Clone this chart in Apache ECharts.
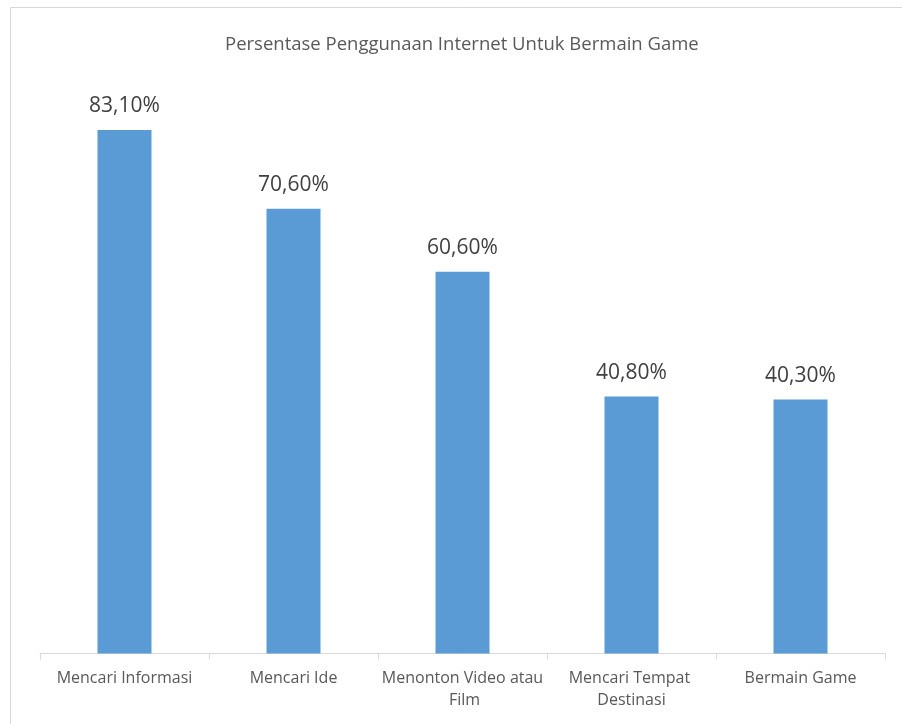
<!DOCTYPE html>
<html><head><meta charset="utf-8">
<script src="https://cdn.jsdelivr.net/npm/echarts@6/dist/echarts.min.js"></script>
<style>html,body{margin:0;padding:0;background:#fff}#c{width:902px;height:724px}</style>
</head><body><div id="c"></div>
<script>
const title = 'Persentase Penggunaan Internet Untuk Bermain Game';
const categories = ['Mencari Informasi', 'Mencari Ide', 'Menonton Video atau Film', 'Mencari Tempat Destinasi', 'Bermain Game'];
const values = [83.1, 70.6, 60.6, 40.8, 40.3];

const font = '"Open Sans", "Noto Sans", sans-serif';
const chart = echarts.init(document.getElementById('c'));
chart.setOption({
  animation: false,
  backgroundColor: '#fff',
  title: {
    text: title, left: 220, top: 30,
    textStyle: { fontFamily: font, fontSize: 18.5, fontWeight: 'normal', color: '#595959' }
  },
  graphic: [{
    type: 'rect', shape: { x: 10.5, y: 7.5, width: 900, height: 730 },
    style: { fill: 'none', stroke: '#D9D9D9', lineWidth: 1 }, silent: true
  }],
  grid: { left: 40, right: 17, top: 86.5, bottom: 70.5 },
  xAxis: {
    type: 'category', data: categories,
    axisLine: { lineStyle: { color: '#D9D9D9', width: 1 } },
    axisTick: { show: true, length: 6, lineStyle: { color: '#D9D9D9' } },
    axisLabel: {
      interval: 0, margin: 14, width: 165, overflow: 'break',
      fontFamily: font, fontSize: 16, color: '#595959', lineHeight: 22
    }
  },
  yAxis: {
    type: 'value', min: 0, max: 90, show: false, splitLine: { show: false }
  },
  series: [{
    type: 'bar', data: values, barWidth: 54,
    itemStyle: { color: '#5B9BD5' },
    label: {
      show: true, position: 'top', distance: 13,
      fontFamily: font, fontSize: 21, color: '#404040',
      formatter: p => p.value.toFixed(2).replace('.', ',') + '%'
    }
  }]
});
</script></body></html>
